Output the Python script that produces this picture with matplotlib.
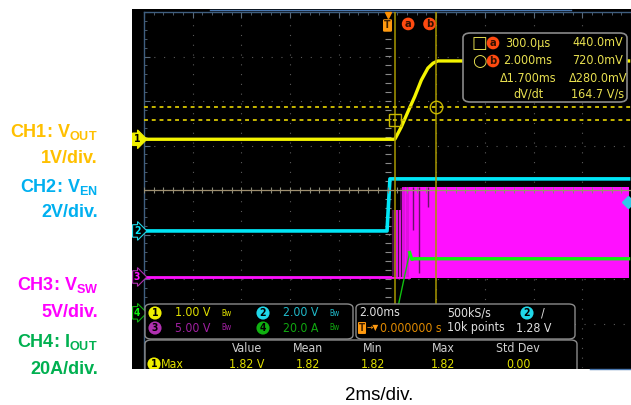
import numpy as np
import matplotlib
matplotlib.use('Agg')
import matplotlib.pyplot as plt
from matplotlib.patches import Rectangle, FancyBboxPatch
from matplotlib.lines import Line2D

W, H = 631, 405

# channels: label, scale (units/div), ground offset (div from centre)
ch_labels = ['CH1: V$_\\mathbf{OUT}$', 'CH2: V$_\\mathbf{EN}$',
             'CH3: V$_\\mathbf{SW}$', 'CH4: I$_\\mathbf{OUT}$']
ch_div_labels = ['1V/div.', '2V/div.', '5V/div.', '20A/div.']
ch_scale = [1.0, 2.0, 5.0, 20.0]
ch_offset = [1.14, -0.92, -1.955, -2.76]
ch_setting = ['1.00 V', '2.00 V', '5.00 V', '20.0 A']
label_colors = ['#ffc000', '#00b0f0', '#ff00ff', '#00b050']
trace_colors = ['#f4f400', '#00e6f6', '#ff10ff', '#10f010']
badge_colors = ['#f0f000', '#20d8e8', '#b030b0', '#10b010']
setting_colors = ['#e0e000', '#20b8c8', '#a020a0', '#10a810']

# CH1 Vout soft start (ms, V)
t_vout = [-10, 0.3, 0.37, 0.57, 0.84, 1.12, 1.39, 1.66, 1.87, 2.07, 9.9]
v_vout = [0.0, 0.0, 0.07, 0.28, 0.62, 0.96, 1.33, 1.60, 1.71, 1.76, 1.76]

# CH2 enable (ms, V)
t_en = [-10, -0.02, 0.1, 9.9]
v_en = [0.0, 0.0, 2.34, 2.34]
trig_level = 1.28  # V on CH2

# CH3 switch node (ms, V)
t_sw_idle = [-10, 0.9]
v_sw_idle = [0.0, 0.0]
t_sw_dark = [0.2, 0.5, 0.5, 0.9]
v_sw_dark = [7.5, 7.5, 10.0, 10.0]
t_sw_pulse = [0.4, 0.5, 0.62, 0.7, 0.78, 0.85]
v_sw_pulse = [7.5, 7.5, 10.1, 10.1, 10.1, 10.1]
t_sw_band = [0.9, 9.9]
v_sw_low, v_sw_high = -0.15, 10.1
t_sw_gap = [1.05, 1.28, 1.66]
v_sw_gap = [5.3, 0.4, 7.9]

# CH4 output current (ms, A)
t_iout = [0.38, 0.91, 1.0, 1.1, 9.9]
i_iout = [0.0, 27.1, 24.0, 24.3, 24.3]

# cursors on CH1
cur_t = [0.3, 2.0]          # ms
cur_v = [0.44, 0.72]        # V
cur_names = ['a', 'b']

# measurement / timebase panel
meas_cols = ['Value', 'Mean', 'Min', 'Max', 'Std Dev']
meas_vals = ['1.82 V', '1.82', '1.82', '1.82', '0.00']
timebase = ['2.00ms', '0.000000 s', '500kS/s', '10k points']

scope_font = dict(family=['DejaVu Sans'], fontstretch='condensed')
FS = 8.8
plt.rcParams['mathtext.fontset'] = 'custom'
plt.rcParams['mathtext.bf'] = 'Liberation Sans:bold'
plt.rcParams['mathtext.rm'] = 'Liberation Sans:bold'


def fx(x):
    return x / W


def fy(y):
    return 1 - y / H


def to_div(ch, vals):
    return ch_offset[ch] + np.asarray(vals, dtype=float) / ch_scale[ch]


fig = plt.figure(figsize=(W / 100, H / 100), dpi=100)
fig.patch.set_facecolor('white')

# scope screen background
fig.add_artist(Rectangle((fx(132), fy(369)), fx(631) - fx(132), fy(9) - fy(369),
                         transform=fig.transFigure, fc='black', ec='none', zorder=-5))

ax = fig.add_axes([fx(144), fy(368), fx(631) - fx(144), fy(12) - fy(368)])
ax.set_facecolor('black')
ax.set_xlim(-10, 9.87)
ax.set_ylim(-4, 4)
for s in ['right', 'bottom']:
    ax.spines[s].set_visible(False)
for s in ['left', 'top']:
    ax.spines[s].set_color('#3f5f80')
    ax.spines[s].set_linewidth(1.0)
ax.set_xticks(np.arange(-10, 10.1, 2))
ax.set_xticks(np.arange(-10, 10, 0.4), minor=True)
ax.set_yticks(np.arange(-4, 4.1, 1))
ax.set_yticks(np.arange(-4, 4, 0.2), minor=True)
ax.tick_params(which='both', direction='in', top=True, bottom=False, left=True,
               right=False, labelbottom=False, labelleft=False, color='#5a6a7a')
ax.tick_params(which='major', length=4)
ax.tick_params(which='minor', length=2.5)

# dotted graticule
gx = [x for x in range(-8, 10, 2) if x != 0]
gy = [y for y in range(-3, 4) if y != 0]
ax.vlines(gx, -4, 4, colors='#5a5a5a', lw=0.8, linestyles=(0, (1, 7.8)), zorder=1)
ax.hlines(gy, -10, 10, colors='#5a5a5a', lw=0.8, linestyles=(0, (1, 7.8)), zorder=1)
# centre axes with ticks
ax.plot(np.arange(-10, 10, 0.4), np.zeros(50), ls='none', marker='|', ms=4,
        color='#8a8a7a', mew=0.8, zorder=7)
ax.plot(np.zeros(40), np.arange(-4, 4, 0.2), ls='none', marker='_', ms=4,
        color='#8a8a8a', mew=0.8, zorder=1)
ax.axhline(0, color='#a09070', lw=0.9, zorder=7)

# CH3 switching band
ax.plot(t_sw_idle, to_div(2, v_sw_idle), color=trace_colors[2], lw=2.0, zorder=3)
ax.fill_between(t_sw_dark, to_div(2, [0] * 4), to_div(2, v_sw_dark),
                color='#4a0c4a', lw=0, zorder=3)
ax.vlines(t_sw_pulse, to_div(2, 0), to_div(2, v_sw_pulse), colors=trace_colors[2],
          lw=1.2, zorder=3)
ax.fill_between(t_sw_band, to_div(2, v_sw_low), to_div(2, v_sw_high),
                color=trace_colors[2], lw=0, zorder=3)
ax.vlines(t_sw_gap, to_div(2, v_sw_gap), to_div(2, v_sw_high), colors='#6a146a',
          lw=1.0, zorder=3)

# CH2, CH4, CH1
ax.plot(t_en, to_div(1, v_en), color=trace_colors[1], lw=2.6, zorder=4)
ax.plot(t_iout[:2], to_div(3, i_iout[:2]), color='#10c010', lw=1.0, zorder=5)
ax.plot(t_iout[1:], to_div(3, i_iout[1:]), color=trace_colors[3], lw=2.4, zorder=5)
ax.plot(t_vout, to_div(0, v_vout), color=trace_colors[0], lw=2.4, zorder=6,
        solid_joinstyle='round')

# trigger level marker on the right edge
ax.plot(9.87, to_div(1, trig_level), marker='D', ms=6, color='#30c8e8',
        clip_on=False, zorder=9)

# cursors
for t in cur_t:
    ax.axvline(t, color='#a89800', lw=1.1, zorder=7)
for v in cur_v:
    ax.axhline(to_div(0, v), color='#c8b800', lw=1.4, ls=(0, (2, 2)), zorder=7)
ax.plot(cur_t[0], to_div(0, cur_v[0]), marker='s', ms=8, mfc='none', mec='#c8b800',
        mew=1.0, zorder=8)
ax.plot(cur_t[1], to_div(0, cur_v[1]), marker='o', ms=9, mfc='none', mec='#c8b800',
        mew=1.0, zorder=8)

# top markers: trigger + cursor tags
ax.plot(0, 3.93, marker='v', ms=4, color='#ff9000', zorder=9, clip_on=False)
ax.annotate('T', xy=(0, 1), xycoords=('data', 'axes fraction'), xytext=(0, -9.7),
            textcoords='offset points', ha='center', va='center', fontsize=7.5,
            fontweight='bold', color='#402000', **scope_font,
            bbox=dict(boxstyle='round,pad=0.12', fc='#ff9a10', ec='none'), zorder=9)
for t, name, dx in zip(cur_t, cur_names, [9.6, -4.8]):
    ax.annotate(name, xy=(t, 1), xycoords=('data', 'axes fraction'), xytext=(dx, -8.6),
                textcoords='offset points', ha='center', va='center', fontsize=8,
                fontweight='bold', color='#301000', **scope_font,
                bbox=dict(boxstyle='circle,pad=0.12', fc='#ff4a10', ec='none'), zorder=9)

# channel ground badges
for i in range(4):
    filled = i == 0
    ax.annotate(str(i + 1), xy=(0, ch_offset[i]), xycoords=('axes fraction', 'data'),
                xytext=(-5, 0), textcoords='offset points', ha='center', va='center',
                fontsize=7.5, fontweight='bold', **scope_font,
                color='black' if filled else trace_colors[i],
                bbox=dict(boxstyle='rarrow,pad=0.12',
                          fc=badge_colors[i] if filled else 'black',
                          ec=badge_colors[i], lw=0.8),
                annotation_clip=False, zorder=9)

# cursor readout box
fig.add_artist(FancyBboxPatch((fx(463), fy(102)), fx(627) - fx(463), fy(33) - fy(102),
                              boxstyle='round,pad=0,rounding_size=0.012',
                              transform=fig.transFigure, fc='black', ec='#8a8a8a',
                              lw=1.2, zorder=5))
rd_col = '#e8e050'
rows = [43, 61, 78, 94]
dt = cur_t[1] - cur_t[0]
dv = cur_v[1] - cur_v[0]
col_t = ['%.1fµs' % (cur_t[0] * 1000), '%.3fms' % cur_t[1], 'Δ%.3fms' % dt, 'dV/dt']
col_v = ['%.1fmV' % (cur_v[0] * 1000), '%.1fmV' % (cur_v[1] * 1000),
         'Δ%.1fmV' % (dv * 1000), '%.1f V/s' % (dv / dt * 1000)]
for y, a, b in zip(rows, col_t, col_v):
    fig.text(fx(528), fy(y), a, ha='center', va='center', fontsize=FS + 0.2,
             color=rd_col, **scope_font, zorder=6)
    fig.text(fx(598), fy(y), b, ha='center', va='center', fontsize=FS + 0.2,
             color=rd_col, **scope_font, zorder=6)
fig.text(fx(479), fy(rows[0]), '□', ha='center', va='center', fontsize=12,
         color=rd_col, family=['DejaVu Sans'], zorder=6)
fig.text(fx(479), fy(rows[1]), '○', ha='center', va='center', fontsize=12,
         color=rd_col, family=['DejaVu Sans'], zorder=6)
for y, name in zip(rows[:2], cur_names):
    fig.text(fx(493), fy(y), name, ha='center', va='center', fontsize=8,
             fontweight='bold', color='#301000', **scope_font, zorder=6,
             bbox=dict(boxstyle='circle,pad=0.12', fc='#ff4a10', ec='none'))

# bottom panels
for x0, x1, y0, y1 in [(145, 353, 304, 339), (356, 575, 304, 339), (145, 577, 340, 385)]:
    fig.add_artist(FancyBboxPatch((fx(x0), fy(y1)), fx(x1) - fx(x0), fy(y0) - fy(y1),
                                  boxstyle='round,pad=0,rounding_size=0.01',
                                  transform=fig.transFigure, fc='black', ec='#8a8a8a',
                                  lw=1.0, zorder=5))

pr = [313, 328]
for i in range(4):
    y = pr[i // 2]
    xb = [155, 263][i % 2]
    fig.text(fx(xb), fy(y), str(i + 1), ha='center', va='center', fontsize=7.5,
             fontweight='bold', color='black', **scope_font, zorder=6,
             bbox=dict(boxstyle='circle,pad=0.15', fc=badge_colors[i], ec='none'))
    fig.text(fx(xb + 20), fy(y), ch_setting[i], ha='left', va='center', fontsize=FS,
             color=setting_colors[i], **scope_font, zorder=6)
    fig.text(fx(xb + 72), fy(y), 'Bw', ha='center', va='center', fontsize=5.5,
             color=setting_colors[i], **scope_font, zorder=6)

tb_col = '#e0e0e0'
fig.text(fx(359), fy(pr[0]), timebase[0], ha='left', va='center', fontsize=FS,
         color=tb_col, **scope_font, zorder=6)
fig.text(fx(362), fy(pr[1]), 'T', ha='center', va='center', fontsize=7,
         fontweight='bold', color='#402000', **scope_font, zorder=6,
         bbox=dict(boxstyle='round,pad=0.1', fc='#ff9a10', ec='none'))
fig.text(fx(367), fy(pr[1]), '→▼', ha='left', va='center', fontsize=5.5,
         color='#ff9a10', family=['DejaVu Sans'], zorder=6)
fig.text(fx(380), fy(pr[1]), timebase[1], ha='left', va='center', fontsize=FS,
         color='#e08a00', **scope_font, zorder=6)
fig.text(fx(447), fy(pr[0]), timebase[2], ha='left', va='center', fontsize=FS,
         color=tb_col, **scope_font, zorder=6)
fig.text(fx(447), fy(pr[1]), timebase[3], ha='left', va='center', fontsize=FS,
         color=tb_col, **scope_font, zorder=6)
fig.text(fx(527), fy(pr[0]), '2', ha='center', va='center', fontsize=7.5,
         fontweight='bold', color='black', **scope_font, zorder=6,
         bbox=dict(boxstyle='circle,pad=0.15', fc=badge_colors[1], ec='none'))
fig.text(fx(543), fy(pr[0]), '/', ha='center', va='center', fontsize=FS,
         color=tb_col, **scope_font, zorder=6)
fig.text(fx(551), fy(pr[1]), '%.2f V' % trig_level, ha='right', va='center',
         fontsize=FS, color=tb_col, **scope_font, zorder=6)

mc = [247, 308, 373, 443, 518]
for x, hdr, val in zip(mc, meas_cols, meas_vals):
    fig.text(fx(x), fy(349), hdr, ha='center', va='center', fontsize=FS,
             color='#d0d0d0', **scope_font, zorder=6)
    fig.text(fx(x), fy(364), val, ha='center', va='center', fontsize=FS,
             color='#e0e000', **scope_font, zorder=6)
fig.text(fx(154), fy(364), '1', ha='center', va='center', fontsize=7.5,
         fontweight='bold', color='black', **scope_font, zorder=6,
         bbox=dict(boxstyle='circle,pad=0.15', fc=badge_colors[0], ec='none'))
fig.text(fx(161), fy(364), 'Max', ha='left', va='center', fontsize=FS,
         color='#e0e000', **scope_font, zorder=6)

# scope UI edge lines
fig.add_artist(Line2D([fx(210), fx(571)], [fy(10), fy(10)], color='#4a78b0', lw=1,
                      transform=fig.transFigure, zorder=6))

# crop of the screenshot
fig.add_artist(Rectangle((0, 0), 1, fy(369), transform=fig.transFigure,
                         fc='white', ec='none', zorder=20))
fig.add_artist(Line2D([fx(590), fx(631)], [fy(368.5), fy(368.5)], color='#4a78b0',
                      lw=1, transform=fig.transFigure, zorder=21))
fig.text(fx(379), fy(395), '2ms/div.', ha='center', va='center', fontsize=13.5,
         color='black', family=['Liberation Sans', 'DejaVu Sans'], zorder=21)

# channel labels on the left
lab_rows = [(137, 163), (192, 217), (290, 317), (347, 374)]
for i in range(4):
    fig.text(fx(98), fy(lab_rows[i][0]), ch_labels[i], ha='right', va='baseline',
             fontsize=13, fontweight='bold', color=label_colors[i],
             family=['Liberation Sans', 'DejaVu Sans'], zorder=22)
    fig.text(fx(98), fy(lab_rows[i][1]), ch_div_labels[i], ha='right', va='baseline',
             fontsize=13, fontweight='bold', color=label_colors[i],
             family=['Liberation Sans', 'DejaVu Sans'], zorder=22)

fig.savefig('out.png', dpi=100, facecolor='white')
